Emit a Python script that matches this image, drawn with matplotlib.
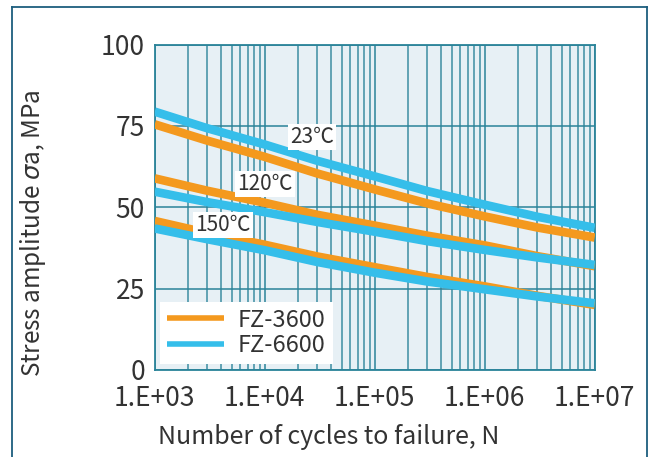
import matplotlib
matplotlib.use("Agg")
import matplotlib.pyplot as plt
from matplotlib.lines import Line2D
from matplotlib.ticker import FixedLocator, NullFormatter

plt.rcParams['font.family'] = ['Noto Sans CJK JP', 'DejaVu Sans']
plt.rcParams['mathtext.fontset'] = 'dejavusans'

cycles = [1e3, 3e3, 1e4, 3e4, 1e5, 3e5, 1e6, 3e6, 1e7]
fz3600_23 = [75.5, 70.5, 65.5, 60.4, 55.5, 51.2, 47.2, 43.8, 40.7]
fz6600_23 = [79.4, 74.3, 69.3, 64.3, 59.5, 55.0, 50.8, 47.1, 43.7]
fz3600_120 = [58.9, 55.1, 51.4, 47.7, 44.4, 41.3, 38.3, 35.0, 31.9]
fz6600_120 = [54.8, 51.6, 48.5, 45.5, 42.5, 39.6, 36.9, 34.6, 32.3]
fz3600_150 = [45.8, 42.1, 38.5, 34.9, 31.6, 28.6, 25.7, 22.8, 20.0]
fz6600_150 = [43.5, 40.2, 36.8, 33.2, 29.9, 27.2, 24.8, 22.6, 20.5]

temp_labels = ['23℃', '120℃', '150℃']
temp_label_pos = [(2.7e4, 71.6), (1.0e4, 57.2), (4.2e3, 44.6)]
xtick_vals = [1e3, 1e4, 1e5, 1e6, 1e7]
xtick_labels = ['1.E+03', '1.E+04', '1.E+05', '1.E+06', '1.E+07']
ytick_vals = [0, 25, 50, 75, 100]

ORANGE = '#F4991E'
BLUE = '#35BEEA'
GRID = '#2A8399'
TEXT = '#333333'

fig = plt.figure(figsize=(6.48, 4.57), dpi=100)
ax = fig.add_axes([154.7/648, 1-370/457, 440/648, (370-44.6)/457])
ax.set_facecolor('#E7F0F5')
ax.set_xscale('log')
ax.set_xlim(1e3, 1e7)
ax.set_ylim(0, 100)

minor = [m*10**e for e in range(3, 7) for m in range(2, 10)]
ax.xaxis.set_minor_locator(FixedLocator(minor))
ax.xaxis.set_minor_formatter(NullFormatter())
ax.set_xticks(xtick_vals)
ax.set_xticklabels(xtick_labels)
ax.set_yticks(ytick_vals)
ax.grid(True, which='major', color=GRID, lw=1.1, zorder=0)
ax.grid(True, which='minor', axis='x', color=GRID, lw=1.1, alpha=0.9, zorder=0)
ax.set_axisbelow(True)
ax.tick_params(which='both', length=0, labelsize=19, colors=TEXT)
ax.tick_params(axis='y', pad=7)
ax.tick_params(axis='x', pad=11)
for s in ax.spines.values():
    s.set_color(GRID)
    s.set_linewidth(1.3)

lw = 6.2
series = [
    (fz3600_23, ORANGE, 'FZ-3600'), (fz3600_120, ORANGE, None), (fz3600_150, ORANGE, None),
    (fz6600_23, BLUE, 'FZ-6600'), (fz6600_120, BLUE, None), (fz6600_150, BLUE, None),
]
for vals, c, lab in series:
    ax.plot(cycles, vals, color=c, lw=lw, solid_capstyle='butt',
            solid_joinstyle='round', label=lab, zorder=3)

for t, (x, y) in zip(temp_labels, temp_label_pos):
    ax.text(x, y, t, fontsize=15, color=TEXT, ha='center', va='center', zorder=4,
            bbox=dict(boxstyle='square,pad=0.1', fc='white', ec='none'))

leg = ax.legend(loc='lower left', bbox_to_anchor=(0.012, 0.018), borderaxespad=0,
                fontsize=17, frameon=True, fancybox=False, framealpha=1,
                edgecolor='white', handlelength=2.4, borderpad=0.3,
                labelspacing=0.1, handletextpad=0.6)
leg.get_frame().set_linewidth(0)
for t in leg.get_texts():
    t.set_color(TEXT)
for h in leg.get_lines():
    h.set_linewidth(4)

ax.set_xlabel('Number of cycles to failure, N', fontsize=18, color=TEXT)
ax.xaxis.set_label_coords(0.396, -0.165)
ax.set_ylabel('Stress amplitude $\\sigma$a, MPa', fontsize=17.5, color=TEXT)
ax.yaxis.set_label_coords(-0.2425, 0.42)

FR = '#1D5E7E'
x0, x1, yt = 11.5/648, 646.5/648, 1-7/457
fig.add_artist(Line2D([x0, x0], [0, yt], color=FR, lw=1.3, transform=fig.transFigure))
fig.add_artist(Line2D([x1, x1], [0, yt], color=FR, lw=1.3, transform=fig.transFigure))
fig.add_artist(Line2D([x0, x1], [yt, yt], color=FR, lw=1.3, transform=fig.transFigure))

fig.savefig('out.png', dpi=100)
